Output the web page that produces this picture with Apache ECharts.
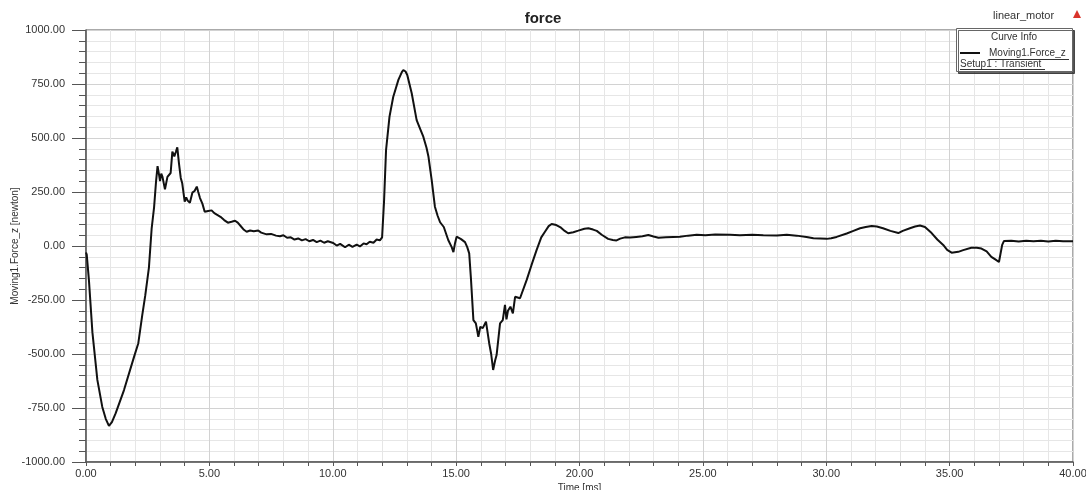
<!DOCTYPE html>
<html>
<head>
<meta charset="utf-8">
<title>force</title>
<script src="https://cdn.jsdelivr.net/npm/echarts@6/dist/echarts.min.js"></script>
<style>
  html, body { margin: 0; padding: 0; background: #fff; }
  #chart { width: 1086px; height: 490px; }
</style>
</head>
<body>
<div id="chart"></div>
<script>
// time axis [ms] and Moving1.Force_z [newton]
var timeMs = [
  0.00, 0.03, 0.12, 0.26, 0.46, 0.66, 0.80, 0.93, 1.05, 1.20,
  1.54, 1.95, 2.12, 2.28, 2.40, 2.55, 2.66, 2.76, 2.84, 2.90,
  2.96, 3.00, 3.05, 3.10, 3.20, 3.30, 3.43, 3.50, 3.58, 3.64,
  3.70, 3.77, 3.84, 3.90, 4.00, 4.06, 4.12, 4.21, 4.31, 4.40,
  4.49, 4.55, 4.62, 4.72, 4.81, 4.95, 5.09, 5.20, 5.30, 5.45,
  5.60, 5.75, 5.90, 6.04, 6.15, 6.25, 6.40, 6.51, 6.65, 6.80,
  6.98, 7.10, 7.32, 7.50, 7.70, 7.86, 8.00, 8.15, 8.30, 8.45,
  8.60, 8.75, 8.90, 9.05, 9.20, 9.35, 9.50, 9.65, 9.80, 10.02,
  10.16, 10.30, 10.50, 10.65, 10.80, 10.97, 11.10, 11.25, 11.37, 11.50,
  11.65, 11.78, 11.91, 12.00, 12.08, 12.16, 12.30, 12.45, 12.66, 12.80,
  12.86, 12.95, 13.02, 13.20, 13.40, 13.55, 13.67, 13.80, 13.88, 14.01,
  14.14, 14.25, 14.35, 14.50, 14.68, 14.82, 14.89, 14.95, 15.02, 15.20,
  15.36, 15.45, 15.53, 15.60, 15.70, 15.80, 15.90, 15.98, 16.08, 16.21,
  16.34, 16.42, 16.50, 16.58, 16.64, 16.78, 16.89, 16.98, 17.04, 17.10,
  17.20, 17.30, 17.39, 17.59, 17.86, 18.05, 18.26, 18.45, 18.60, 18.75,
  18.87, 19.06, 19.25, 19.40, 19.54, 19.75, 19.95, 20.20, 20.36, 20.55,
  20.70, 20.90, 21.16, 21.35, 21.50, 21.65, 21.84, 22.05, 22.30, 22.55,
  22.79, 23.00, 23.20, 23.50, 23.80, 24.07, 24.40, 24.75, 25.10, 25.50,
  26.10, 26.50, 27.00, 27.45, 28.00, 28.40, 28.80, 29.20, 29.48, 29.75,
  30.02, 30.20, 30.42, 30.83, 31.10, 31.37, 31.60, 31.84, 32.05, 32.30,
  32.60, 32.92, 33.10, 33.39, 33.60, 33.80, 34.00, 34.27, 34.50, 34.74,
  34.90, 35.08, 35.35, 35.55, 35.88, 36.10, 36.29, 36.50, 36.69, 36.85,
  37.00, 37.08, 37.13, 37.20, 37.50, 37.80, 38.10, 38.40, 38.70, 39.00,
  39.30, 39.60, 40.00
];
var forceN = [
  -30, -40, -160, -400, -620, -745, -800, -833, -815, -775,
  -667, -512, -450, -320, -230, -100, 80, 180, 300, 370,
  330, 300, 335, 320, 262, 320, 338, 437, 415, 435,
  457, 380, 315, 290, 205, 225, 210, 200, 247, 255,
  275, 250, 222, 195, 159, 162, 165, 152, 145, 135,
  120, 108, 112, 117, 108, 95, 75, 66, 72, 68,
  72, 62, 54, 56, 48, 45, 50, 38, 40, 30,
  35, 26, 32, 22, 28, 18, 25, 15, 22, 14,
  2, 10, -6, 6, -4, 6, -2, 12, 8, 20,
  15, 30, 26, 40, 210, 444, 599, 690, 769, 805,
  815, 808, 792, 707, 583, 540, 506, 455, 413, 305,
  182, 140, 110, 88, 28, -5, -28, 10, 43, 32,
  18, -5, -34, -150, -343, -358, -420, -374, -380, -350,
  -450, -500, -574, -530, -505, -358, -343, -273, -340, -300,
  -281, -312, -235, -242, -157, -90, -19, 40, 66, 92,
  102, 97, 85, 70, 59, 64, 71, 80, 82, 76,
  70, 52, 33, 28, 26, 34, 40, 39, 42, 45,
  51, 44, 38, 40, 42, 43, 48, 52, 50, 53,
  52, 50, 52, 50, 49, 52, 48, 42, 36, 35,
  33, 36, 42, 58, 70, 82, 88, 93, 90, 82,
  70, 60, 70, 82, 90, 95, 88, 60, 30, 5,
  -18, -31, -27, -19, -8, -8, -12, -25, -50, -62,
  -74, -72, 5, 23, 24, 21, 24, 22, 24, 21,
  24, 22, 22
];
var xTicks = [0, 5, 10, 15, 20, 25, 30, 35, 40];
var yTicks = [-1000, -750, -500, -250, 0, 250, 500, 750, 1000];

var seriesData = timeMs.map(function (t, i) { return [t, forceN[i]]; });

var chart = echarts.init(document.getElementById('chart'));
var font = 'Liberation Sans, Arial, sans-serif';
var axisColor = '#555';

chart.setOption({
  animation: false,
  backgroundColor: '#fff',
  textStyle: { fontFamily: font },
  title: {
    text: 'force',
    left: 'center',
    top: 6,
    textStyle: { fontSize: 15, fontWeight: 'bold', color: '#222', fontFamily: font }
  },
  grid: {
    left: 86, right: 13, top: 30, bottom: 28,
    outerBoundsMode: 'none',
    containLabel: false,
    show: true,
    borderColor: axisColor,
    borderWidth: 1
  },
  xAxis: {
    type: 'value',
    min: xTicks[0],
    max: xTicks[xTicks.length - 1],
    interval: 5,
    name: 'Time [ms]',
    nameLocation: 'middle',
    nameGap: 21,
    nameMoveOverlap: false,
    nameTextStyle: { fontSize: 10, color: '#333' },
    axisLine: { onZero: false, lineStyle: { color: axisColor, width: 1.5 } },
    axisTick: { length: 4, lineStyle: { color: axisColor } },
    minorTick: { show: true, splitNumber: 5, length: 4, lineStyle: { color: axisColor } },
    axisLabel: {
      fontSize: 11, color: '#333', margin: 6,
      formatter: function (v) { return v.toFixed(2); }
    },
    splitLine: { lineStyle: { color: '#d2d2d2' } },
    minorSplitLine: { show: true, lineStyle: { color: '#e6e6e6' } }
  },
  yAxis: {
    type: 'value',
    min: yTicks[0],
    max: yTicks[yTicks.length - 1],
    interval: 250,
    name: 'Moving1.Force_z [newton]',
    nameLocation: 'middle',
    nameGap: 66,
    nameMoveOverlap: false,
    nameTextStyle: { fontSize: 10, color: '#333' },
    axisLine: { show: true, onZero: false, lineStyle: { color: axisColor, width: 1.5 } },
    axisTick: { show: true, length: 14, lineStyle: { color: axisColor } },
    minorTick: { show: true, splitNumber: 5, length: 7, lineStyle: { color: axisColor } },
    axisLabel: {
      fontSize: 11, color: '#333', margin: 21,
      formatter: function (v) { return v.toFixed(2); }
    },
    splitLine: { lineStyle: { color: '#d2d2d2' } },
    minorSplitLine: { show: true, lineStyle: { color: '#e6e6e6' } }
  },
  series: [{
    name: 'Moving1.Force_z',
    type: 'line',
    data: seriesData,
    symbol: 'none',
    showSymbol: false,
    lineStyle: { color: '#111', width: 2 },
    z: 5
  }],
  graphic: [
    {
      type: 'text', left: 993, top: 10,
      style: { text: 'linear_motor', fontSize: 11, fill: '#333', fontFamily: font }
    },
    {
      type: 'polygon',
      shape: { points: [[1073, 18], [1081, 18], [1077, 10]] },
      style: { fill: '#d9342b' }
    },
    {
      type: 'rect',
      shape: { x: 956.5, y: 28.5, width: 116, height: 43 },
      style: {
        fill: '#fff', stroke: '#666', lineWidth: 1,
        shadowColor: 'rgba(0,0,0,0.6)', shadowOffsetX: 2, shadowOffsetY: 2, shadowBlur: 0
      },
      z: 10
    },
    {
      type: 'text', x: 1014, y: 37, z: 11,
      style: {
        text: 'Curve Info', fontSize: 10, fill: '#333', fontFamily: font,
        align: 'center', verticalAlign: 'middle'
      }
    },
    {
      type: 'line', z: 11,
      shape: { x1: 960, y1: 53, x2: 980, y2: 53 },
      style: { stroke: '#111', lineWidth: 2 }
    },
    {
      type: 'text', x: 989, y: 53, z: 11,
      style: {
        text: 'Moving1.Force_z', fontSize: 10, fill: '#333', fontFamily: font,
        align: 'left', verticalAlign: 'middle'
      }
    },
    {
      type: 'line', z: 11,
      shape: { x1: 989, y1: 59.5, x2: 1069, y2: 59.5 },
      style: { stroke: '#333', lineWidth: 1 }
    },
    {
      type: 'text', x: 960, y: 64, z: 11,
      style: {
        text: 'Setup1 : Transient', fontSize: 10, fill: '#333', fontFamily: font,
        align: 'left', verticalAlign: 'middle'
      }
    },
    {
      type: 'line', z: 11,
      shape: { x1: 960, y1: 69.5, x2: 1045, y2: 69.5 },
      style: { stroke: '#333', lineWidth: 1 }
    }
  ]
});
</script>
</body>
</html>
